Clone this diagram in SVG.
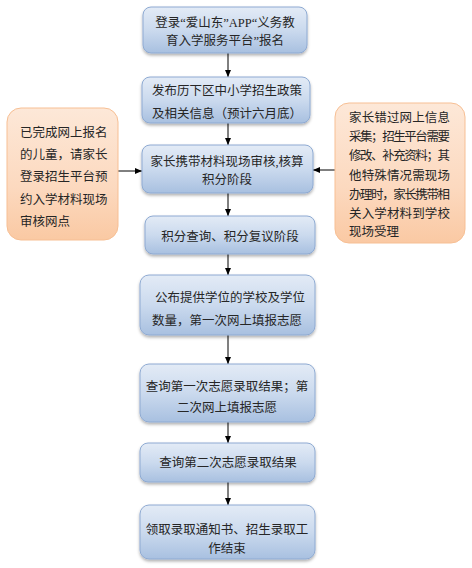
<svg xmlns="http://www.w3.org/2000/svg" width="472" height="568" viewBox="0 0 472 568">
<defs>
<linearGradient id="gb" x1="0" y1="0" x2="0" y2="1">
<stop offset="0" stop-color="#e3ebf6"/>
<stop offset="0.5" stop-color="#cbdaee"/>
<stop offset="1" stop-color="#a8c0e0"/>
</linearGradient>
<linearGradient id="go" x1="0" y1="0" x2="0" y2="1">
<stop offset="0" stop-color="#fde8d8"/>
<stop offset="0.6" stop-color="#fcd9bf"/>
<stop offset="1" stop-color="#fac9a3"/>
</linearGradient>
<filter id="sh" x="-10%" y="-10%" width="125%" height="135%">
<feDropShadow dx="0" dy="2" stdDeviation="1.5" flood-color="#000" flood-opacity="0.3"/>
</filter>
<marker id="ah" markerWidth="8" markerHeight="8" refX="7" refY="4" orient="auto" markerUnits="userSpaceOnUse">
<path d="M0,1 L7,4 L0,7 z" fill="#000"/>
</marker>
</defs>
<style>
.b{fill:url(#gb);stroke:#8eaad2;stroke-width:1;filter:url(#sh)}
.o{fill:url(#go);stroke:#f7bf94;stroke-width:1}
text{font-family:"Liberation Serif","Noto Sans CJK SC",serif;font-size:12.5px;fill:#262626}
.c{text-anchor:middle}
.l{stroke:#000;stroke-width:1;fill:none;marker-end:url(#ah)}
</style>
<rect width="472" height="568" fill="#fff"/>
<g id="connectors">
<line class="l" x1="228" y1="53" x2="228" y2="77"/>
<line class="l" x1="228" y1="123" x2="228" y2="145"/>
<line class="l" x1="228" y1="193" x2="228" y2="216"/>
<line class="l" x1="228" y1="254" x2="228" y2="275"/>
<line class="l" x1="228" y1="335" x2="228" y2="364"/>
<line class="l" x1="228" y1="422" x2="228" y2="443"/>
<line class="l" x1="228" y1="482" x2="228" y2="505"/>
<line class="l" x1="118" y1="171" x2="142" y2="171"/>
<line class="l" x1="335" y1="170" x2="313" y2="170"/>
</g>
<g id="n1">
<rect class="b" x="143" y="7" width="164" height="46" rx="8"/>
<text class="c" x="225" y="27">登录“爱山东”APP“义务教</text>
<text class="c" x="225" y="45">育入学服务平台”报名</text>
</g>
<g id="n2">
<rect class="b" x="142" y="77" width="168" height="46" rx="8"/>
<text class="c" x="227" y="95">发布历下区中小学招生政策</text>
<text class="c" x="227" y="118">及相关信息（预计六月底）</text>
</g>
<g id="n3">
<rect class="b" x="142" y="145" width="171" height="48" rx="8"/>
<text class="c" x="227" y="166">家长携带材料现场审核,核算</text>
<text class="c" x="227" y="184">积分阶段</text>
</g>
<g id="n4">
<rect class="b" x="145" y="216" width="170" height="38" rx="8"/>
<text class="c" x="230" y="241">积分查询、积分复议阶段</text>
</g>
<g id="n5">
<rect class="b" x="140" y="275" width="175" height="60" rx="9"/>
<text class="c" x="230" y="302">公布提供学位的学校及学位</text>
<text class="c" x="227" y="325">数量，第一次网上填报志愿</text>
</g>
<g id="n6">
<rect class="b" x="140" y="364" width="175" height="58" rx="9"/>
<text class="c" x="227" y="391">查询第一次志愿录取结果；第</text>
<text class="c" x="227" y="412">二次网上填报志愿</text>
</g>
<g id="n7">
<rect class="b" x="140" y="443" width="175" height="39" rx="8"/>
<text class="c" x="228" y="467">查询第二次志愿录取结果</text>
</g>
<g id="n8">
<rect class="b" x="140" y="505" width="175" height="54" rx="9"/>
<text class="c" x="227" y="534">领取录取通知书、招生录取工</text>
<text class="c" x="227" y="553">作结束</text>
</g>
<g id="left">
<rect class="o" x="7" y="108" width="111" height="132" rx="14"/>
<text x="20" y="137">已完成网上报名</text>
<text x="20" y="159">的儿童，请家长</text>
<text x="20" y="181">登录招生平台预</text>
<text x="20" y="204">约入学材料现场</text>
<text x="20" y="226">审核网点</text>
</g>
<g id="right">
<rect class="o" x="335" y="103" width="130" height="140" rx="14"/>
<text x="349" y="122" textLength="101" lengthAdjust="spacing">家长错过网上信息</text>
<text x="349" y="141" textLength="101" lengthAdjust="spacing">采集；招生平台需要</text>
<text x="349" y="160" textLength="101" lengthAdjust="spacing">修改、补充资料；其</text>
<text x="349" y="180" textLength="101" lengthAdjust="spacing">他特殊情况需现场</text>
<text x="349" y="199" textLength="101" lengthAdjust="spacing">办理时，家长携带相</text>
<text x="349" y="218" textLength="101" lengthAdjust="spacing">关入学材料到学校</text>
<text x="349" y="236">现场受理</text>
</g>
</svg>
